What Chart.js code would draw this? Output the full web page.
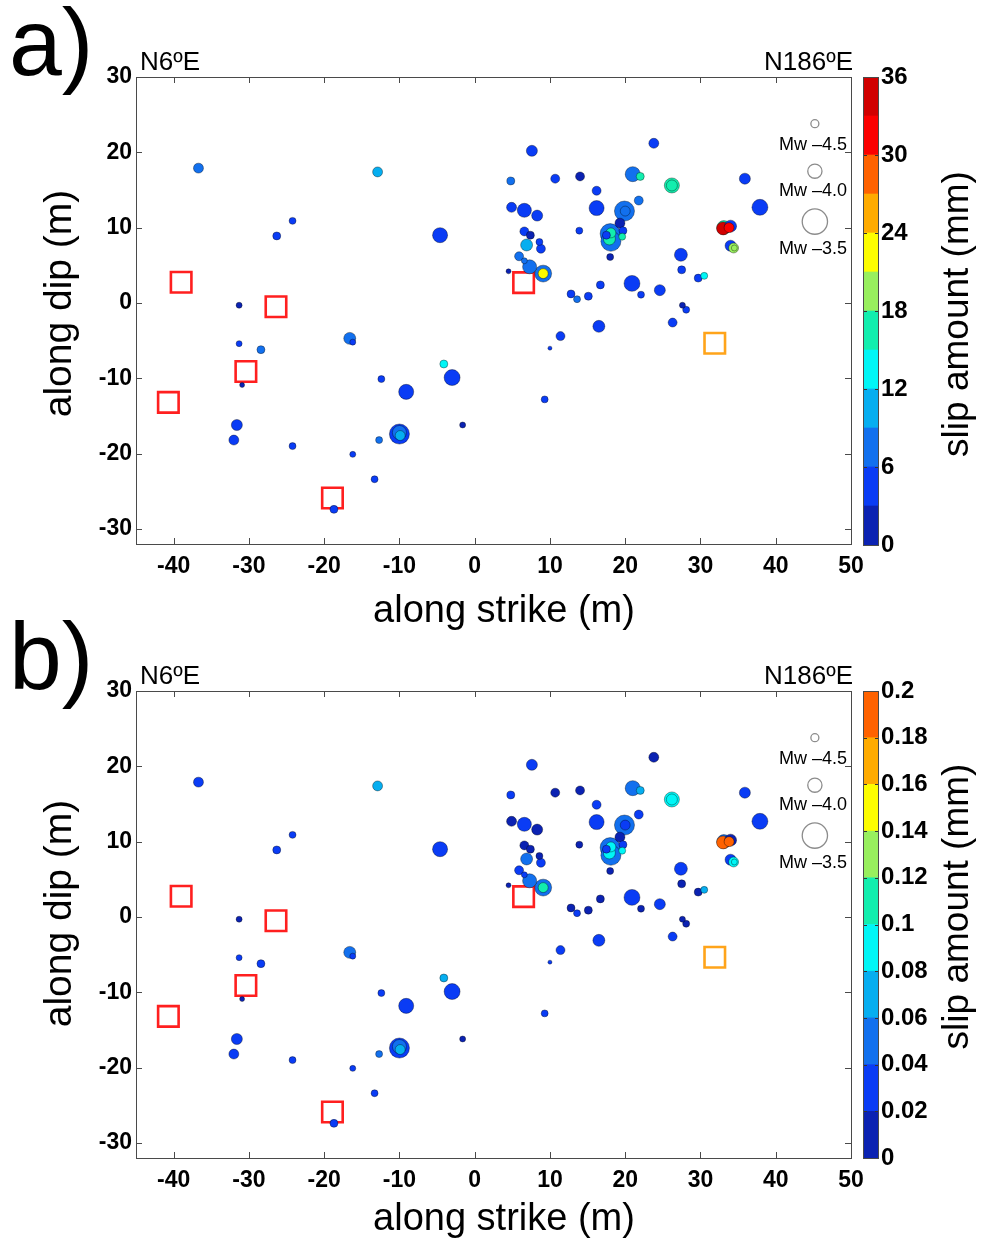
<!DOCTYPE html>
<html>
<head>
<meta charset="utf-8">
<title>slip amount</title>
<script src="https://cdn.jsdelivr.net/npm/chart.js@4.4.1/dist/chart.umd.min.js"></script>
<style>
  body { margin: 0; background: #fff; }
  #wrap { position: relative; width: 988px; height: 1241px; overflow: hidden; }
  canvas { position: absolute; }
</style>
</head>
<body>
<div id="wrap">
  <canvas id="mapA" width="988" height="640" style="left:0;top:0"></canvas>
  <canvas id="barA" width="133" height="640" style="left:855px;top:0"></canvas>
  <canvas id="mapB" width="988" height="640" style="left:0;top:614px"></canvas>
  <canvas id="barB" width="133" height="640" style="left:855px;top:614px"></canvas>
</div>
<script>
// events: position on the fault (m), magnitude, slip in both panels
const strikeX = [-36.7, -12.9, -24.2, -26.3, -4.6, -31.3, -31.3, -28.4, -16.6, -16.2,
  -30.9, -12.4, -9.1, -4.1, -3.0, -1.6, -31.6, -32.0, -24.2, -16.2,
  -12.7, -10.0, -10.0, -9.9, -13.3, -18.7, 7.6, 23.8, 4.8, 10.7,
  14.0, 21.0, 22.0, 26.2, 26.2, 35.9, 16.2, 4.9, 6.6, 8.3,
  16.2, 19.9, 20.0, 21.8, 37.9, 34.0, 33.1, 33.0, 33.8, 34.0,
  34.4, 34.5, 19.3, 13.9, 18.0, 18.1, 18.1, 17.9, 17.5, 19.6,
  19.7, 18.0, 6.6, 7.4, 8.6, 8.8, 6.9, 5.9, 6.6, 7.3,
  9.1, 9.1, 4.5, 12.8, 13.6, 15.1, 16.7, 20.9, 22.1, 16.5,
  27.4, 27.5, 29.7, 30.5, 24.6, 27.6, 28.1, 26.3, 11.4, 10.0,
  9.3];
const dipY = [17.9, 17.4, 10.9, 8.9, 9.0, -0.3, -5.4, -6.2, -4.7, -5.2,
  -10.9, -10.1, -11.8, -8.1, -9.9, -16.2, -16.2, -18.2, -19.0, -20.1,
  -18.2, -17.4, -17.2, -17.6, -23.4, -27.4, 20.2, 21.2, 16.2, 16.5,
  16.8, 17.1, 16.8, 15.6, 15.6, 16.5, 14.9, 12.7, 12.3, 11.6,
  12.6, 12.2, 12.2, 13.6, 12.7, 10.2, 10.0, 9.9, 10.0, 7.6,
  7.3, 7.3, 10.6, 9.6, 9.2, 8.2, 9.3, 8.5, 9.0, 8.8,
  9.6, 6.1, 9.5, 9.0, 8.1, 7.2, 7.7, 6.2, 5.6, 4.8,
  3.9, 3.9, 4.2, 1.2, 0.5, 0.9, 2.4, 2.6, 1.1, -3.1,
  6.4, 4.4, 3.3, 3.6, 1.7, -0.3, -0.9, -2.6, -4.4, -6.0,
  -12.8];
const magnitude = [-4.31, -4.31, -4.62, -4.5, -3.95, -4.75, -4.75, -4.5, -4.15, -4.75,
  -4.91, -4.62, -3.95, -4.5, -3.9, -4.75, -4.22, -4.31, -4.62, -4.75,
  -4.62, -3.7, -4.01, -4.31, -4.62, -4.5, -4.22, -4.31, -4.5, -4.4,
  -4.4, -3.95, -4.5, -3.95, -4.22, -4.22, -4.4, -4.31, -4.01, -4.22,
  -3.95, -3.7, -4.31, -4.4, -3.9, -4.15, -4.01, -4.08, -4.31, -4.22,
  -4.31, -4.75, -4.31, -4.62, -3.7, -3.7, -4.31, -4.15, -4.5, -4.62,
  -4.5, -4.62, -4.4, -4.5, -4.62, -4.4, -4.15, -4.4, -4.75, -4.01,
  -3.85, -4.31, -4.91, -4.5, -4.62, -4.5, -4.5, -3.9, -4.62, -4.15,
  -4.08, -4.5, -4.5, -4.62, -4.22, -4.75, -4.62, -4.4, -4.4, -5.1,
  -4.62];
const slipA = [7.5, 10.5, 4.5, 4.5, 4.5, 1.5, 4.5, 7.5, 7.5, 4.5,
  1.5, 4.5, 4.5, 13.5, 4.5, 1.5, 4.5, 4.5, 4.5, 4.5,
  7.5, 4.5, 7.5, 10.5, 4.5, 4.5, 4.5, 4.5, 7.5, 4.5,
  1.5, 7.5, 16.5, 16.5, 16.5, 4.5, 4.5, 4.5, 4.5, 4.5,
  4.5, 7.5, 7.5, 7.5, 4.5, 4.5, 16.5, 34.5, 31.5, 4.5,
  19.5, 19.5, 1.5, 4.5, 7.5, 7.5, 16.5, 16.5, 4.5, 16.5,
  4.5, 1.5, 4.5, 1.5, 4.5, 4.5, 10.5, 7.5, 7.5, 7.5,
  7.5, 22.5, 1.5, 4.5, 7.5, 4.5, 4.5, 4.5, 4.5, 4.5,
  4.5, 4.5, 4.5, 13.5, 4.5, 1.5, 4.5, 4.5, 4.5, 4.5,
  4.5];
const slipB = [0.03, 0.07, 0.03, 0.03, 0.03, 0.01, 0.03, 0.03, 0.05, 0.03,
  0.01, 0.03, 0.03, 0.07, 0.03, 0.01, 0.03, 0.03, 0.03, 0.03,
  0.05, 0.03, 0.05, 0.07, 0.03, 0.03, 0.03, 0.01, 0.03, 0.01,
  0.01, 0.05, 0.07, 0.09, 0.09, 0.03, 0.03, 0.01, 0.03, 0.01,
  0.03, 0.05, 0.03, 0.03, 0.03, 0.01, 0.05, 0.19, 0.19, 0.03,
  0.09, 0.09, 0.01, 0.01, 0.05, 0.05, 0.09, 0.09, 0.03, 0.09,
  0.03, 0.01, 0.01, 0.01, 0.01, 0.03, 0.05, 0.03, 0.03, 0.05,
  0.05, 0.11, 0.01, 0.01, 0.03, 0.01, 0.01, 0.03, 0.01, 0.03,
  0.03, 0.01, 0.01, 0.07, 0.03, 0.01, 0.01, 0.03, 0.03, 0.03,
  0.03];

// open squares
const redSquareX = [-39.0, -26.4, -30.4, -40.7, -18.9, 6.5];
const redSquareY = [2.75, -0.5, -9.1, -13.2, -25.9, 2.7];
const orangeSquareX = [31.9];
const orangeSquareY = [-5.35];

// magnitude legend
const legendMw = [-4.5, -4.0, -3.5];
const legendX = [45.2, 45.2, 45.2];
const legendY = [23.8, 17.5, 10.8];
const legendLabelY = [21.0, 14.9, 7.1];

// colour bars
const edgesA = [0, 3, 6, 9, 12, 15, 18, 21, 24, 27, 30, 33, 36];
const edgesB = [0, 0.02, 0.04, 0.06, 0.08, 0.1, 0.12, 0.14, 0.16, 0.18, 0.2];
const slipColors = [
  "#0b22b2", "#0a3cf5", "#1270ee", "#06aef0", "#00f6f6", "#12eeae",
  "#98ef5e", "#fdfd00", "#ffab00", "#ff6200", "#fb0000", "#d10000",
];

const FONT = "'Liberation Sans', Arial, Helvetica, sans-serif";
Chart.defaults.font.family = FONT;
Chart.defaults.color = "#000";

function mwRadius(mw) {
  return 4 * Math.pow(10, 0.5 * (mw + 4.5));
}

function bandColor(v, edges) {
  for (let i = 0; i < edges.length - 1; i++) {
    if (v < edges[i + 1]) return slipColors[i];
  }
  return slipColors[edges.length - 2];
}

// box with inward ticks, axis titles, panel letter, azimuth labels, Mw labels
const mapDecor = {
  id: "mapDecor",
  afterDraw(chart, args, opts) {
    const { ctx, chartArea: a, scales } = chart;
    ctx.save();
    ctx.strokeStyle = "#4a4a4a";
    ctx.lineWidth = 1;
    ctx.strokeRect(a.left + 0.5, a.top + 0.5, a.width, a.height);
    ctx.beginPath();
    scales.x.ticks.forEach((t) => {
      const px = Math.round(scales.x.getPixelForValue(t.value)) + 0.5;
      ctx.moveTo(px, a.bottom);
      ctx.lineTo(px, a.bottom - 6);
      ctx.moveTo(px, a.top);
      ctx.lineTo(px, a.top + 6);
    });
    scales.y.ticks.forEach((t) => {
      const py = Math.round(scales.y.getPixelForValue(t.value)) + 0.5;
      ctx.moveTo(a.left, py);
      ctx.lineTo(a.left + 6, py);
      ctx.moveTo(a.right, py);
      ctx.lineTo(a.right - 6, py);
    });
    ctx.stroke();

    ctx.fillStyle = "#000";
    ctx.textBaseline = "middle";
    ctx.textAlign = "center";
    ctx.font = "38px " + FONT;
    ctx.fillText("along strike (m)", 504, a.bottom + opts.xTitleDrop);
    ctx.save();
    ctx.translate(60, (a.top + a.bottom) / 2 + opts.yTitleShift);
    ctx.rotate(-Math.PI / 2);
    ctx.font = "39px " + FONT;
    ctx.fillText("along dip (m)", 0, 0);
    ctx.restore();

    ctx.textBaseline = "alphabetic";
    ctx.font = "95px " + FONT;
    ctx.textAlign = "left";
    ctx.fillText(opts.letter, 9, 75);
    ctx.font = "26px " + FONT;
    ctx.fillText("N6\u00baE", a.left + 4, 70);
    ctx.textAlign = "right";
    ctx.fillText("N186\u00baE", a.right + 2, 70);

    ctx.font = "18px " + FONT;
    ctx.textBaseline = "middle";
    legendMw.forEach((m, i) => {
      const py = scales.y.getPixelForValue(legendLabelY[i]);
      ctx.fillText("Mw \u2013" + Math.abs(m).toFixed(1), a.right - 4, py);
    });
    ctx.restore();
  },
};

function renderMap(canvasId, slips, edges, letter, bottomPad, xAxisH, titleOpts) {
  const order = strikeX.map((_, i) => i).sort((p, q) => magnitude[q] - magnitude[p]);
  const events = order.map((i) => ({ x: strikeX[i], y: dipY[i], r: mwRadius(magnitude[i]) }));
  const colors = order.map((i) => bandColor(slips[i], edges));

  new Chart(document.getElementById(canvasId), {
    type: "bubble",
    plugins: [mapDecor],
    data: {
      datasets: [
        {
          data: events,
          backgroundColor: colors,
          borderColor: "rgba(0, 0, 0, 0.45)",
          borderWidth: 0.8,
        },
        {
          data: legendMw.map((m, i) => ({ x: legendX[i], y: legendY[i], r: mwRadius(m) })),
          backgroundColor: "rgba(255, 255, 255, 0)",
          borderColor: "#8c8c8c",
          borderWidth: 1.3,
        },
        {
          type: "scatter",
          data: redSquareX.map((x, i) => ({ x: x, y: redSquareY[i] })),
          pointStyle: "rect",
          pointRadius: 14.5,
          borderColor: "#ff1f1f",
          borderWidth: 2.6,
          backgroundColor: "rgba(0, 0, 0, 0)",
        },
        {
          type: "scatter",
          data: orangeSquareX.map((x, i) => ({ x: x, y: orangeSquareY[i] })),
          pointStyle: "rect",
          pointRadius: 14.5,
          borderColor: "#ffa41a",
          borderWidth: 2.6,
          backgroundColor: "rgba(0, 0, 0, 0)",
        },
      ],
    },
    options: {
      responsive: false,
      animation: false,
      events: [],
      layout: { padding: { top: 77, right: 137, left: 40, bottom: bottomPad } },
      plugins: {
        legend: { display: false },
        tooltip: { enabled: false },
        mapDecor: {
          letter: letter,
          xTitleDrop: titleOpts.xDrop,
          yTitleShift: titleOpts.yShift,
        },
      },
      scales: {
        x: {
          type: "linear",
          min: -45,
          max: 50,
          grid: { display: false, drawTicks: false },
          border: { display: false },
          ticks: {
            stepSize: 10,
            includeBounds: false,
            autoSkip: false,
            maxRotation: 0,
            padding: 9,
            color: "#000",
            font: { size: 23, weight: "bold" },
          },
          afterFit: (s) => {
            s.height = xAxisH;
          },
        },
        y: {
          type: "linear",
          min: -32,
          max: 30,
          grid: { display: false, drawTicks: false },
          border: { display: false },
          ticks: {
            stepSize: 10,
            includeBounds: false,
            autoSkip: false,
            padding: 4,
            color: "#000",
            font: { size: 23, weight: "bold" },
          },
          afterFit: (s) => {
            s.width = 96;
          },
        },
      },
    },
  });
}

// colour bar frame, tick marks and rotated title
const barDecor = {
  id: "barDecor",
  afterDraw(chart, args, opts) {
    const { ctx, chartArea: a, scales } = chart;
    ctx.save();
    ctx.strokeStyle = "#333";
    ctx.lineWidth = 1;
    ctx.beginPath();
    scales.y.ticks.forEach((t) => {
      const py = Math.round(scales.y.getPixelForValue(t.value)) + 0.5;
      ctx.moveTo(a.left, py);
      ctx.lineTo(a.left + 4, py);
      ctx.moveTo(a.right, py);
      ctx.lineTo(a.right - 4, py);
    });
    ctx.stroke();
    ctx.strokeStyle = "#4a4a4a";
    ctx.strokeRect(a.left + 0.5, a.top + 0.5, a.width - 1, a.height);

    ctx.translate(103, (a.top + a.bottom) / 2 + opts.shift);
    ctx.rotate(-Math.PI / 2);
    ctx.fillStyle = "#000";
    ctx.font = "37px " + FONT;
    ctx.textAlign = "center";
    ctx.textBaseline = "middle";
    ctx.fillText("slip amount (mm)", 0, 0);
    ctx.restore();
  },
};

function renderColorBar(canvasId, edges, step, bottomPad, shift) {
  new Chart(document.getElementById(canvasId), {
    type: "bar",
    plugins: [barDecor],
    data: {
      labels: [""],
      datasets: edges.slice(0, -1).map((lo, i) => ({
        data: [[lo, edges[i + 1]]],
        backgroundColor: slipColors[i],
        borderWidth: 0,
        categoryPercentage: 1,
        barPercentage: 1,
        grouped: false,
      })),
    },
    options: {
      responsive: false,
      animation: false,
      events: [],
      layout: { padding: { top: 77, left: 8, right: 0, bottom: bottomPad } },
      plugins: {
        legend: { display: false },
        tooltip: { enabled: false },
        barDecor: { shift: shift },
      },
      scales: {
        x: { display: false },
        y: {
          position: "right",
          min: 0,
          max: edges[edges.length - 1],
          grid: { display: false, drawTicks: false },
          border: { display: false },
          ticks: {
            stepSize: step,
            autoSkip: false,
            padding: 2,
            color: "#000",
            font: { size: 24, weight: "bold" },
            callback: (v) => String(+v.toFixed(2)),
          },
          afterFit: (s) => {
            s.width = 109;
          },
        },
      },
    },
  });
}

renderMap("mapA", slipA, edgesA, "a)", 5, 91, { xDrop: 68, yShift: -7 });
renderMap("mapB", slipB, edgesB, "b)", 9, 87, { xDrop: 62, yShift: -11 });
renderColorBar("barA", edgesA, 6, 95, 3);
renderColorBar("barB", edgesB, 0.02, 96, -18);
</script>
</body>
</html>
